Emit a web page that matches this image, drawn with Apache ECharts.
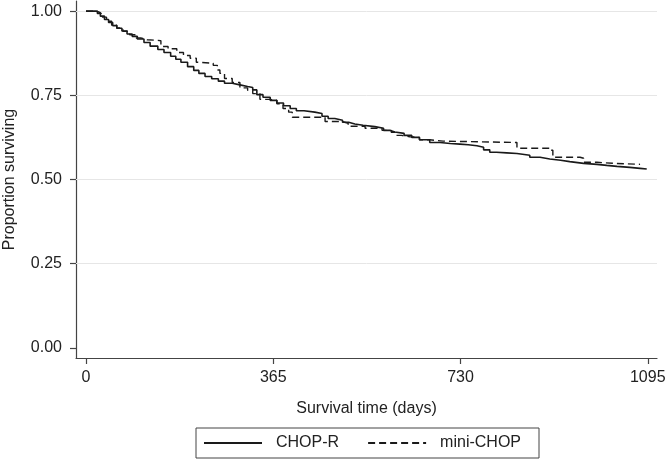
<!DOCTYPE html>
<html>
<head>
<meta charset="utf-8">
<script src="https://cdn.jsdelivr.net/npm/echarts@6/dist/echarts.min.js"></script>
<style>html,body{margin:0;padding:0;background:#fff;}#c{width:665px;height:461px;}</style>
</head>
<body>
<div id="c"></div>
<script>
const seriesNames = ['CHOP-R', 'mini-CHOP'];
const xTicks = [0, 365, 730, 1095];
const yTicks = [0, 0.25, 0.5, 0.75, 1.0];
const gridValues = [0.25, 0.5, 0.75, 1.0];

const daysChopR = [0,15,20,28,36,44,52,60,70,80,90,100,113,125,140,152,165,175,185,198,210,220,232,245,258,270,285,300,315,325,333,345,359,372,385,398,410,425,446,460,472,485,500,512,524,540,563,580,592,602,620,635,650,670,690,710,729,745,762,775,787,800,820,840,865,885,904,925,943,970,996,1015,1035,1060,1080,1093];
const survChopR = [1.000,1.000,0.995,0.985,0.975,0.966,0.957,0.949,0.941,0.932,0.925,0.917,0.907,0.896,0.886,0.877,0.866,0.857,0.848,0.835,0.824,0.815,0.806,0.799,0.792,0.786,0.781,0.776,0.773,0.766,0.752,0.744,0.735,0.727,0.719,0.711,0.704,0.700,0.696,0.688,0.681,0.676,0.670,0.665,0.661,0.657,0.652,0.646,0.641,0.637,0.631,0.625,0.618,0.610,0.607,0.605,0.603,0.600,0.596,0.588,0.581,0.579,0.577,0.572,0.566,0.561,0.557,0.553,0.548,0.545,0.542,0.539,0.536,0.533,0.531,0.529];

const daysMini = [0,15,22,30,40,50,60,72,85,98,108,119,140,146,160,177,190,203,215,222,248,256,261,270,285,300,315,325,339,359,372,384,395,402,460,466,499,511,544,577,595,602,615,631,650,670,696,832,840,898,904,910,963,970,996,1030,1080];
const survMini = [1.000,1.000,0.993,0.982,0.970,0.958,0.950,0.940,0.930,0.920,0.915,0.913,0.912,0.895,0.888,0.877,0.868,0.860,0.848,0.845,0.839,0.825,0.815,0.800,0.788,0.772,0.765,0.755,0.738,0.735,0.725,0.711,0.700,0.685,0.685,0.672,0.667,0.658,0.652,0.646,0.640,0.631,0.627,0.625,0.618,0.614,0.610,0.610,0.593,0.593,0.587,0.566,0.563,0.551,0.548,0.545,0.545];

const pairs = (xs, ys) => xs.map((x, i) => [x, ys[i]]);
const font = 'Liberation Sans, Arial, Helvetica, sans-serif';
const chart = echarts.init(document.getElementById('c'), null, {renderer: 'canvas'});
chart.setOption({
  animation: false,
  backgroundColor: '#fff',
  grid: {left: 76, right: 8, top: 1, bottom: 103, containLabel: false, outerBoundsMode: 'none'},
  xAxis: {
    type: 'value', min: -19.5, max: 1113,
    name: 'Survival time (days)', nameLocation: 'middle', nameGap: 43,
    nameTextStyle: {fontFamily: font, fontSize: 16, color: '#222'},
    axisLine: {show: true, onZero: false, lineStyle: {color: '#444', width: 1.2}},
    axisTick: {show: true, length: 6, customValues: xTicks, lineStyle: {color: '#444', width: 1.2}},
    axisLabel: {customValues: xTicks, margin: 12, fontFamily: font, fontSize: 16, color: '#222',
      formatter: v => String(v)},
    splitLine: {show: false}
  },
  yAxis: {
    type: 'value', min: -0.03, max: 1.03,
    name: 'Proportion surviving', nameLocation: 'middle', nameGap: 58,
    nameTextStyle: {fontFamily: font, fontSize: 16, color: '#222'},
    axisLine: {show: true, onZero: false, lineStyle: {color: '#444', width: 1.2}},
    axisTick: {show: true, length: 6, customValues: yTicks, lineStyle: {color: '#444', width: 1.2}},
    axisLabel: {customValues: yTicks, margin: 14, fontFamily: font, fontSize: 16, color: '#222',
      formatter: v => v.toFixed(2)},
    splitLine: {show: false}
  },
  legend: {
    left: 196, top: 428,
    padding: [7, 18, 7, 7],
    borderColor: '#444', borderWidth: 1,
    itemWidth: 58, itemHeight: 16, itemGap: 28,
    itemStyle: {color: 'rgba(0,0,0,0)', borderWidth: 0, opacity: 0},
    textStyle: {fontFamily: font, fontSize: 16, color: '#222', padding: [0, 0, 0, 9]},
    data: seriesNames
  },
  series: [
    {
      name: seriesNames[0], type: 'line', step: 'end', symbol: 'none',
      data: pairs(daysChopR, survChopR),
      lineStyle: {color: '#1a1a1a', width: 1.6, type: 'solid'},
      itemStyle: {color: '#1a1a1a'},
      z: 3,
      markLine: {
        silent: true, symbol: 'none', label: {show: false},
        lineStyle: {color: '#e6e6e6', width: 1, type: 'solid'},
        data: gridValues.map(v => ({yAxis: v})),
        z: 1
      }
    },
    {
      name: seriesNames[1], type: 'line', step: 'end', symbol: 'none',
      data: pairs(daysMini, survMini),
      lineStyle: {color: '#1a1a1a', width: 1.4, type: [7, 4]},
      itemStyle: {color: '#1a1a1a'},
      z: 2
    }
  ]
});
</script>
</body>
</html>
